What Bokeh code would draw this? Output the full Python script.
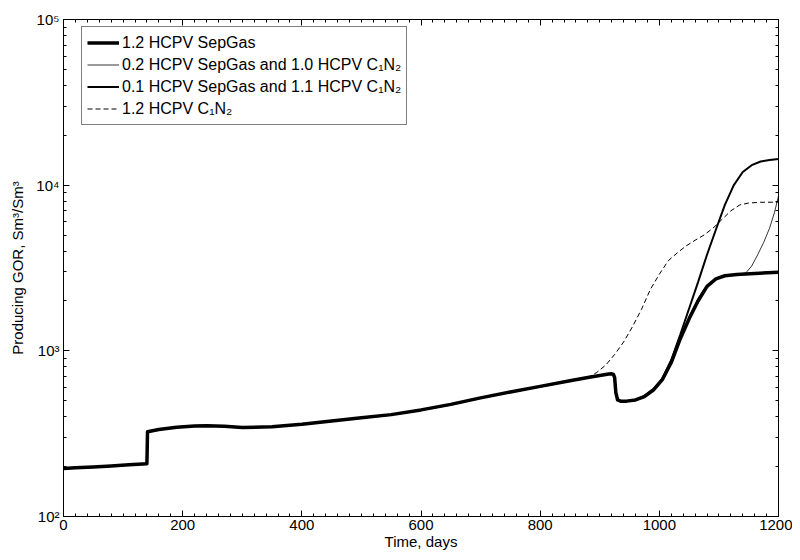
from bokeh.plotting import figure
from bokeh.models import Legend, LegendItem, LinearAxis, LogAxis, FixedTicker, Range1d
from bokeh.embed import file_html
from bokeh.resources import INLINE

# ---- data ----
base_days = [0, 20, 50, 80, 110, 140, 141, 160, 190, 220, 240, 270, 300, 350, 400, 450,
             500, 550, 600, 650, 700, 750, 800, 850, 880, 900, 915, 920, 923, 925, 927,
             930, 935, 945]
base_vals = [195, 197, 199, 202, 205, 208, 325, 335, 346, 352, 353, 350, 344, 348, 360, 377,
             395, 412, 440, 475, 520, 565, 610, 660, 690, 710, 725, 727, 720, 690, 560,
             505, 497, 497]

sep_days = [960, 975, 990, 1005, 1020, 1035, 1050, 1065, 1080, 1095, 1110, 1130, 1160, 1200]
sep_vals = [505, 530, 580, 670, 850, 1180, 1560, 2000, 2450, 2720, 2840, 2890, 2930, 2980]

mix02_days = [960, 975, 990, 1005, 1020, 1035, 1050, 1065, 1080, 1095, 1110, 1130, 1145,
              1155, 1165, 1175, 1185, 1193, 1200]
mix02_vals = [506, 533, 585, 675, 865, 1210, 1620, 2080, 2500, 2750, 2860, 2900, 2950,
              3250, 3800, 4500, 5500, 6800, 8600]

mix01_days = [960, 975, 990, 1005, 1020, 1035, 1050, 1065, 1080, 1095, 1110, 1125, 1140,
              1155, 1170, 1185, 1200]
mix01_vals = [506, 534, 588, 680, 880, 1250, 1800, 2600, 3800, 5400, 7600, 10000, 12000,
              13200, 13900, 14200, 14400]

c1n2_base_cut = 25  # dashed curve leaves the common trend after day 880
c1n2_days = [895, 910, 925, 940, 955, 970, 985, 1000, 1015, 1030, 1045, 1060, 1075, 1090,
             1105, 1120, 1135, 1150, 1170, 1200]
c1n2_vals = [740, 820, 950, 1130, 1400, 1780, 2350, 2900, 3500, 3900, 4300, 4650, 5000, 5500,
             6200, 7000, 7600, 7800, 7880, 7900]

labels = ["1.2 HCPV SepGas",
          "0.2 HCPV SepGas and 1.0 HCPV C\u2081N\u2082",
          "0.1 HCPV SepGas and 1.1 HCPV C\u2081N\u2082",
          "1.2 HCPV C\u2081N\u2082"]

x_major = [0, 200, 400, 600, 800, 1000, 1200]
y_major = [1e2, 1e3, 1e4, 1e5]
y_labels = {1e2: "10\u00b2", 1e3: "10\u00b3", 1e4: "10\u2074", 1e5: "10\u2075"}

# ---- figure ----
FONT = "Liberation Sans"
p = figure(width=792, height=552, x_range=Range1d(0, 1200), y_range=Range1d(100, 1e5),
           y_axis_type="log", output_backend="svg", toolbar_location=None,
           min_border_left=63, min_border_right=14, min_border_top=19, min_border_bottom=35)
p.xgrid.visible = False
p.ygrid.visible = False
p.outline_line_color = "black"
p.outline_line_width = 1
p.background_fill_color = "white"
p.border_fill_color = "white"

xt = FixedTicker(ticks=x_major, minor_ticks=list(range(0, 1201, 20)))
ym = []
for d in [1e2, 1e3, 1e4]:
    ym += [d * k for k in range(2, 10)]
yt = FixedTicker(ticks=y_major, minor_ticks=ym)

for ax in [p.xaxis[0], p.yaxis[0]]:
    ax.major_tick_in = 6
    ax.major_tick_out = 0
    ax.minor_tick_in = 3
    ax.minor_tick_out = 0
    ax.axis_line_color = "black"
    ax.major_tick_line_color = "black"
    ax.minor_tick_line_color = "black"
    ax.major_label_text_font = FONT
    ax.major_label_text_font_size = "15px"
    ax.major_label_text_color = "black"
    ax.axis_label_text_font = FONT
    ax.axis_label_text_font_size = "15px"
    ax.axis_label_text_font_style = "normal"
    ax.axis_label_text_color = "black"

p.xaxis[0].ticker = xt
p.yaxis[0].ticker = yt
p.yaxis[0].major_label_overrides = y_labels
p.xaxis[0].axis_label = "Time, days"
p.yaxis[0].axis_label = "Producing GOR, Sm\u00b3/Sm\u00b3"
p.xaxis[0].major_label_standoff = 3
p.xaxis[0].axis_label_standoff = 0
p.yaxis[0].major_label_standoff = 4
p.yaxis[0].axis_label_standoff = 7

top = LinearAxis(ticker=xt, major_label_overrides={t: "" for t in x_major},
                 major_label_standoff=0,
                 major_tick_in=6, major_tick_out=0, minor_tick_in=3, minor_tick_out=0,
                 axis_line_color="black")
right = LogAxis(ticker=yt, major_label_overrides={t: "" for t in y_major},
                major_label_standoff=0,
                major_tick_in=6, major_tick_out=0, minor_tick_in=3, minor_tick_out=0,
                axis_line_color="black")
p.add_layout(top, "above")
p.add_layout(right, "right")

# ---- series ----
sep_x = base_days + sep_days
sep_y = base_vals + sep_vals
m02_x = base_days + mix02_days
m02_y = base_vals + mix02_vals
m01_x = base_days + mix01_days
m01_y = base_vals + mix01_vals
c_x = base_days[:c1n2_base_cut] + c1n2_days
c_y = base_vals[:c1n2_base_cut] + c1n2_vals

r_c = p.line(c_x, c_y, line_color="black", line_width=1, line_dash="5 3")
r_m02 = p.line(m02_x, m02_y, line_color="black", line_width=0.8)
r_m01 = p.line(m01_x, m01_y, line_color="black", line_width=2)
r_sep = p.line(sep_x, sep_y, line_color="black", line_width=3.5, line_join="round")

legend = Legend(items=[LegendItem(label=labels[0], renderers=[r_sep]),
                       LegendItem(label=labels[1], renderers=[r_m02]),
                       LegendItem(label=labels[2], renderers=[r_m01]),
                       LegendItem(label=labels[3], renderers=[r_c])],
                location=(18, 391), label_text_font=FONT, label_text_font_size="16px",
                label_text_color="black", glyph_width=32, glyph_height=21, spacing=1,
                padding=5, label_standoff=3, margin=0,
                border_line_color="black", border_line_width=1,
                background_fill_color="white", background_fill_alpha=1)
p.add_layout(legend, "center")

open("out.html", "w").write(file_html(p, INLINE))
